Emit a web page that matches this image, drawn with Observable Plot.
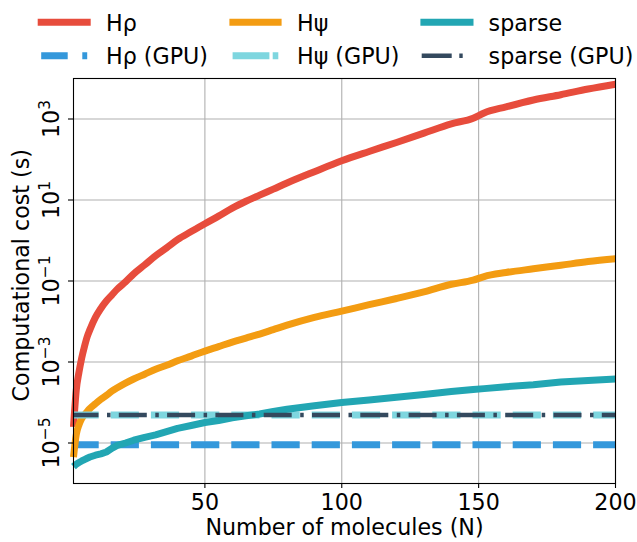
<!DOCTYPE html>
<html><head><meta charset="utf-8">
<script src="https://cdn.jsdelivr.net/npm/d3@7"></script>
<script src="https://cdn.jsdelivr.net/npm/@observablehq/plot@0.6"></script>
<style>
body{margin:0;background:#fff;}
#wrap{position:relative;width:637px;height:542px;font-family:"DejaVu Sans";}
#wrap svg{position:absolute;left:0;top:0;}
</style></head><body><div id="wrap"></div>
<script>
// ---- data ----
const N = [2,3,4,5,6,7,8,10,12,14,16,18,21,24,28,32,36,40,45,50,55,60,65,70,75,80,90,100,110,120,130,140,148,152,160,170,180,190,200];
const hrho = [2.5e-5,2.0e-4,5.6e-4,1.26e-3,2.4e-3,4.2e-3,6.3e-3,1.26e-2,2.1e-2,3.2e-2,4.5e-2,6.3e-2,9.5e-2,0.15,0.25,0.42,0.66,1.05,1.66,2.6,4.0,6.3,9.3,13.2,18.6,26.3,50,93,158,263,447,759,1047,1413,1995,2951,3981,5495,7244];
const hpsi = [4.5e-6,1.6e-5,2.8e-5,4.0e-5,5.0e-5,6.0e-5,7.1e-5,9.3e-5,1.2e-4,1.5e-4,1.9e-4,2.3e-4,3.0e-4,3.8e-4,5.0e-4,6.6e-4,8.3e-4,1.07e-3,1.4e-3,1.86e-3,2.4e-3,3.1e-3,3.9e-3,4.9e-3,6.3e-3,8.1e-3,1.26e-2,1.8e-2,2.6e-2,3.7e-2,5.4e-2,8.3e-2,0.105,0.129,0.162,0.2,0.245,0.302,0.355];
const sparse = [2.6e-6,3.0e-6,3.3e-6,3.6e-6,3.9e-6,4.2e-6,4.5e-6,5.0e-6,5.4e-6,6.0e-6,7.4e-6,8.7e-6,1.0e-5,1.17e-5,1.38e-5,1.58e-5,1.9e-5,2.3e-5,2.7e-5,3.2e-5,3.6e-5,4.2e-5,4.7e-5,5.2e-5,6.0e-5,6.8e-5,8.3e-5,1.0e-4,1.15e-4,1.35e-4,1.58e-4,1.86e-4,2.1e-4,2.2e-4,2.45e-4,2.75e-4,3.2e-4,3.5e-4,3.8e-4];
const gpuN = [2, 200];
const hrhoGpu = [9.1e-6, 9.1e-6];
const hpsiGpu = [4.9e-5, 4.9e-5];
const sparseGpu = [4.9e-5, 4.9e-5];
const seriesLabels = ["Hρ", "Hρ (GPU)", "Hψ", "Hψ (GPU)", "sparse", "sparse (GPU)"];
const seriesColors = ["#e74c3c", "#3498db", "#f39c12", "#7ed6df", "#22a6b3", "#34495e"];
const xTicks = [50, 100, 150, 200];
const yTicks = [1e-5, 1e-3, 1e-1, 1e1, 1e3];
const yTickLabels = ["10^−5", "10^−3", "10^−1", "10^1", "10^3"];
const xTitle = "Number of molecules (N)";
const yTitle = "Computational cost (s)";

// ---- build ----
const FS = 22.2;
const rows = (xs, ys) => xs.map((n, i) => ({N: n, v: ys[i]}));
const lineOpts = (c, w) => ({x: "N", y: "v", stroke: c, strokeWidth: w, strokeLinejoin: "round", strokeLinecap: "butt"});

const chart = Plot.plot({
  width: 637, height: 542,
  marginTop: 78, marginBottom: 59, marginLeft: 73, marginRight: 22,
  style: {fontFamily: "DejaVu Sans", fontSize: FS + "px", background: "#fff", color: "#000"},
  x: {domain: [2, 200]},
  y: {type: "log", domain: [1e-6, 1e4]},
  marks: [
    Plot.gridX(xTicks, {stroke: "#b0b0b0", strokeOpacity: 1, strokeWidth: 1.1}),
    Plot.gridY(yTicks, {stroke: "#b0b0b0", strokeOpacity: 1, strokeWidth: 1.1}),
    Plot.line(rows(N, hrho), {...lineOpts(seriesColors[0], 7), curve: "monotone-x"}),
    Plot.line(rows(gpuN, hrhoGpu), {...lineOpts(seriesColors[1], 7), strokeDasharray: "28.2 12", strokeDashoffset: 3}),
    Plot.line(rows(N, hpsi), {...lineOpts(seriesColors[2], 7), curve: "monotone-x"}),
    Plot.line(rows(gpuN, hpsiGpu), {...lineOpts(seriesColors[3], 7), strokeDasharray: "28.2 12", strokeDashoffset: 3}),
    Plot.line(rows(N, sparse), lineOpts(seriesColors[4], 7)),
    Plot.line(rows(gpuN, sparseGpu), {...lineOpts(seriesColors[5], 4.4), strokeDasharray: "28 8.5 3.5 8.3", strokeDashoffset: 3}),
    Plot.frame({stroke: "#000", strokeWidth: 1.1}),
    Plot.axisX({ticks: xTicks, tickSize: 5, tickPadding: 6, tickFormat: d => String(d), label: null, strokeWidth: 1.1, fontSize: FS}),
    Plot.axisY({ticks: yTicks, tickSize: 5, tickFormat: () => "", label: null, strokeWidth: 1.1}),
    Plot.text(yTicks, {y: d => d, frameAnchor: "left", text: (d, i) => yTickLabels[i], rotate: -90, textAnchor: "middle", lineAnchor: "bottom", dx: -14.7, fontSize: FS}),
    Plot.text([yTitle], {frameAnchor: "left", text: d => d, rotate: -90, textAnchor: "middle", lineAnchor: "bottom", dx: -44.5, dy: -5.8, fontSize: FS}),
    Plot.text([xTitle], {frameAnchor: "bottom", text: d => d, lineAnchor: "bottom", dy: 51, fontSize: FS})
  ]
});

// superscripts for the log tick labels
Array.from(chart.querySelectorAll("text")).filter(t => t.textContent.includes("^")).forEach(t => {
  const [base, sup] = t.textContent.split("^");
  t.textContent = base;
  const ts = document.createElementNS("http://www.w3.org/2000/svg", "tspan");
  ts.setAttribute("dy", "-8.7");
  ts.setAttribute("font-size", "15.5px");
  ts.textContent = sup;
  t.appendChild(ts);
});

const wrap = document.getElementById("wrap");
wrap.appendChild(chart);

// legend (3 columns, 2 rows, column-major like matplotlib)
const leg = d3.create("svg").attr("width", 637).attr("height", 75)
  .style("font-family", "DejaVu Sans").style("font-size", FS + "px");
const legendSpec = [
  {x0: 41.2, x1: 87.2, y: 22.3, w: 7, cap: "square", dash: null, tx: 106},
  {x0: 41.2, x1: 87.2, y: 55.7, w: 7, cap: "butt", dash: "26.5 14.6", tx: 106},
  {x0: 232.9, x1: 278.1, y: 22.3, w: 7, cap: "square", dash: null, tx: 297},
  {x0: 232.6, x1: 278.3, y: 55.7, w: 7, cap: "butt", dash: "36.8 3.3 6", tx: 297},
  {x0: 423.9, x1: 470, y: 22.3, w: 7, cap: "square", dash: null, tx: 488.6},
  {x0: 421.7, x1: 463, y: 55.7, w: 4.4, cap: "butt", dash: "30 7.6 3.4 20", tx: 488.6}
];
legendSpec.forEach((s, i) => {
  const l = leg.append("line").attr("x1", s.x0).attr("x2", s.x1).attr("y1", s.y).attr("y2", s.y)
    .attr("stroke", seriesColors[i]).attr("stroke-width", s.w).attr("stroke-linecap", s.cap);
  if (s.dash) l.attr("stroke-dasharray", s.dash);
  leg.append("text").attr("x", s.tx).attr("y", s.y + 8.2).attr("fill", "#000").text(seriesLabels[i]);
});
wrap.appendChild(leg.node());
</script>
</body></html>
